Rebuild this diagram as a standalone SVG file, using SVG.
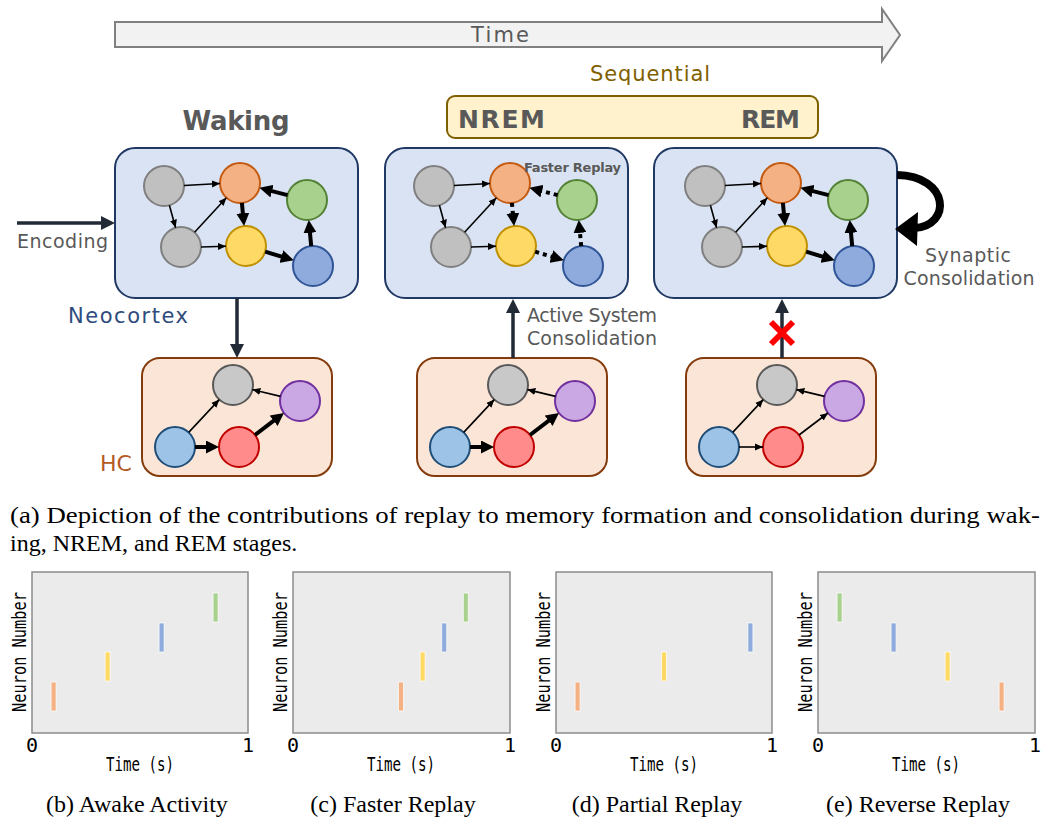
<svg xmlns="http://www.w3.org/2000/svg" width="1050" height="830" viewBox="0 0 1050 830">
<style>
.lbl{font-family:"DejaVu Sans","Liberation Sans",sans-serif;fill:#595959}
.bold{font-weight:bold}
.neo{fill:#DAE3F3;stroke:#203864;stroke-width:2}
.hc{fill:#FBE5D6;stroke:#843C0C;stroke-width:2}
.cg{fill:#C0C0C0;stroke:#7F7F7F;stroke-width:2}
.co{fill:#F4B183;stroke:#C55A11;stroke-width:2}
.cgr{fill:#A9D18E;stroke:#548235;stroke-width:2}
.cy{fill:#FFD966;stroke:#BF9000;stroke-width:2}
.cb{fill:#8FAADC;stroke:#2F5597;stroke-width:2}
.hg{fill:#C8C8C8;stroke:#595959;stroke-width:2}
.hp{fill:#C9A8E3;stroke:#7030A0;stroke-width:2}
.hb{fill:#9DC3E6;stroke:#1F4E79;stroke-width:2}
.hr{fill:#FF8B8B;stroke:#C00000;stroke-width:2}
.thin{stroke:#000;stroke-width:1.6;fill:none;marker-end:url(#ahThin)}
.thick{stroke:#000;stroke-width:4;fill:none;marker-end:url(#ahThick)}
.dot{stroke:#000;stroke-width:4;fill:none;stroke-dasharray:4 4;marker-end:url(#ahThick)}
.navy{stroke:#222A35;stroke-width:3.5;fill:none;marker-end:url(#ahNavy)}
.plot{fill:#EBEBEB;stroke:#8C8C8C;stroke-width:1.5}
.mono{font-family:"DejaVu Sans Mono","Liberation Mono",monospace;fill:#000}
.serif{font-family:"Liberation Serif","Times New Roman",serif;fill:#000}
.sp{stroke:#FFFFFF;stroke-width:1;stroke-opacity:0.7}
</style>
<defs>
<marker id="ahThin" markerUnits="userSpaceOnUse" markerWidth="9" markerHeight="8" refX="8" refY="4" orient="auto"><path d="M0,0.5 L8,4 L0,7.5 Z" fill="#000"/></marker>
<marker id="ahThick" markerUnits="userSpaceOnUse" markerWidth="13" markerHeight="13" refX="6" refY="6.5" orient="auto"><path d="M0,0 L13,6.5 L0,13 Z" fill="#000"/></marker>
<marker id="ahNavy" markerUnits="userSpaceOnUse" markerWidth="14" markerHeight="14" refX="2" refY="7" orient="auto"><path d="M0,0 L14,7 L0,14 Z" fill="#222A35"/></marker>
</defs>
<rect width="1050" height="830" fill="#FFFFFF"/>

<g id="time-arrow">
<path d="M115,22 L882,22 L882,9 L900,35 L882,61 L882,47 L115,47 Z" fill="#F2F2F2" stroke="#808080" stroke-width="2"/>
<text x="500" y="42" class="lbl" font-size="21" text-anchor="middle" textLength="58">Time</text>
</g>

<g id="sequential">
<text x="650" y="81" class="lbl" style="fill:#7F6000" font-size="21" text-anchor="middle" textLength="120">Sequential</text>
<rect x="447" y="96" width="371" height="42" rx="8" fill="#FFF2CC" stroke="#7F6000" stroke-width="2"/>
<text x="458" y="128" class="lbl bold" font-size="25" textLength="87">NREM</text>
<text x="741" y="128" class="lbl bold" font-size="25" textLength="59">REM</text>
</g>

<text x="236" y="130" class="lbl bold" font-size="26" text-anchor="middle" textLength="107">Waking</text>

<g id="neocortex-waking">
<rect class="neo" x="115" y="148" width="243" height="150" rx="20"/>
<g transform="translate(115,148)">
<circle class="cg" cx="49" cy="38" r="20"/><circle class="co" cx="125" cy="35" r="20"/><circle class="cgr" cx="192" cy="52" r="20"/>
<circle class="cg" cx="66" cy="99" r="20"/><circle class="cy" cx="131" cy="98" r="20"/><circle class="cb" cx="198" cy="118" r="20"/>
</g>
</g>

<g id="neocortex-nrem">
<rect class="neo" x="385" y="148" width="243" height="150" rx="20"/>
<g transform="translate(385,148)">
<circle class="cg" cx="49" cy="38" r="20"/><circle class="co" cx="125" cy="35" r="20"/><circle class="cgr" cx="192" cy="52" r="20"/>
<circle class="cg" cx="66" cy="99" r="20"/><circle class="cy" cx="131" cy="98" r="20"/><circle class="cb" cx="198" cy="118" r="20"/>
</g>
<text x="524" y="172" class="lbl bold" font-size="13" textLength="97">Faster Replay</text>
</g>

<g id="neocortex-rem">
<rect class="neo" x="654" y="148" width="243" height="150" rx="20"/>
<g transform="translate(656,148)">
<circle class="cg" cx="49" cy="38" r="20"/><circle class="co" cx="125" cy="35" r="20"/><circle class="cgr" cx="192" cy="52" r="20"/>
<circle class="cg" cx="66" cy="99" r="20"/><circle class="cy" cx="131" cy="98" r="20"/><circle class="cb" cx="198" cy="118" r="20"/>
</g>
</g>

<g id="hc-waking">
<rect class="hc" x="142" y="358" width="190" height="118" rx="18"/>
<g transform="translate(142,358)">
<circle class="hg" cx="91" cy="27" r="20"/><circle class="hp" cx="158" cy="43" r="20"/><circle class="hb" cx="33" cy="89" r="20"/><circle class="hr" cx="97" cy="89" r="20"/>
</g>
</g>
<g id="hc-nrem">
<rect class="hc" x="417" y="358" width="190" height="118" rx="18"/>
<g transform="translate(417,358)">
<circle class="hg" cx="91" cy="27" r="20"/><circle class="hp" cx="158" cy="43" r="20"/><circle class="hb" cx="33" cy="89" r="20"/><circle class="hr" cx="97" cy="89" r="20"/>
</g>
</g>
<g id="hc-rem">
<rect class="hc" x="686" y="358" width="190" height="118" rx="18"/>
<g transform="translate(686,358)">
<circle class="hg" cx="91" cy="27" r="20"/><circle class="hp" cx="158" cy="43" r="20"/><circle class="hb" cx="33" cy="89" r="20"/><circle class="hr" cx="97" cy="89" r="20"/>
</g>
</g>

<g id="labels">
<text x="17" y="248" class="lbl" font-size="19" textLength="91">Encoding</text>
<text x="68" y="323" class="lbl" style="fill:#2E4B7C" font-size="21" textLength="120">Neocortex</text>
<text x="100" y="471" class="lbl" style="fill:#B45A24" font-size="22">HC</text>
<text x="527" y="322" class="lbl" font-size="19" textLength="130">Active System</text>
<text x="527" y="345" class="lbl" font-size="19" textLength="130">Consolidation</text>
<text x="968" y="262" class="lbl" font-size="19" text-anchor="middle" textLength="86">Synaptic</text>
<text x="969" y="285" class="lbl" font-size="19" text-anchor="middle" textLength="131">Consolidation</text>
</g>

<g id="connectors">
<g transform="translate(115,148)">
<line class="thin" x1="69" y1="37.5" x2="105" y2="35.5"/>
<line class="thin" x1="54.4" y1="57.3" x2="60.6" y2="79.7"/>
<line class="thin" x1="79.6" y1="84.3" x2="111.4" y2="49.7"/>
<line class="thin" x1="86" y1="99" x2="111" y2="98.3"/>
<line class="thick" x1="126.9" y1="54.9" x2="128.4" y2="71.1"/>
<line class="thick" x1="172.6" y1="47.1" x2="151.2" y2="41.6"/>
<line class="thick" x1="150.2" y1="103.7" x2="172.1" y2="110.3"/>
<line class="thick" x1="196.2" y1="98.1" x2="194.4" y2="78.9"/>
</g>
<g transform="translate(385,148)">
<line class="thin" x1="69" y1="37.5" x2="105" y2="35.5"/>
<line class="thin" x1="54.4" y1="57.3" x2="60.6" y2="79.7"/>
<line class="thin" x1="79.6" y1="84.3" x2="111.4" y2="49.7"/>
<line class="thin" x1="86" y1="99" x2="111" y2="98.3"/>
<line class="dot" x1="126.9" y1="54.9" x2="128.4" y2="71.1"/>
<line class="dot" x1="172.6" y1="47.1" x2="151.2" y2="41.6"/>
<line class="dot" x1="150.2" y1="103.7" x2="172.1" y2="110.3"/>
<line class="dot" x1="196.2" y1="98.1" x2="194.4" y2="78.9"/>
</g>
<g transform="translate(656,148)">
<line class="thin" x1="69" y1="37.5" x2="105" y2="35.5"/>
<line class="thin" x1="54.4" y1="57.3" x2="60.6" y2="79.7"/>
<line class="thin" x1="79.6" y1="84.3" x2="111.4" y2="49.7"/>
<line class="thin" x1="86" y1="99" x2="111" y2="98.3"/>
<line class="thick" x1="126.9" y1="54.9" x2="128.4" y2="71.1"/>
<line class="thick" x1="172.6" y1="47.1" x2="151.2" y2="41.6"/>
<line class="thick" x1="150.2" y1="103.7" x2="172.1" y2="110.3"/>
<line class="thick" x1="196.2" y1="98.1" x2="194.4" y2="78.9"/>
</g>
<g transform="translate(142,358)">
<line class="thin" x1="46.7" y1="74.4" x2="77.3" y2="41.6"/>
<line class="thin" x1="138.6" y1="38.4" x2="110.4" y2="31.6"/>
<line class="thick" x1="53" y1="89" x2="70" y2="89" stroke-width="5"/>
<line class="thick" x1="113" y1="77" x2="136.4" y2="59.2" stroke-width="6"/>
</g>
<g transform="translate(417,358)">
<line class="thin" x1="46.7" y1="74.4" x2="77.3" y2="41.6"/>
<line class="thin" x1="138.6" y1="38.4" x2="110.4" y2="31.6"/>
<line class="thick" x1="53" y1="89" x2="70" y2="89" stroke-width="5"/>
<line class="thick" x1="113" y1="77" x2="136.4" y2="59.2" stroke-width="6"/>
</g>
<g transform="translate(686,358)">
<line class="thin" x1="46.7" y1="74.4" x2="77.3" y2="41.6"/>
<line class="thin" x1="138.6" y1="38.4" x2="110.4" y2="31.6"/>
<line class="thin" x1="53" y1="89" x2="77" y2="89"/>
<line class="thin" x1="113" y1="77" x2="142" y2="55"/>
</g>
<line class="navy" x1="17" y1="223" x2="103" y2="223" stroke-width="4"/>
<line class="navy" x1="237" y1="298" x2="237" y2="346"/>
<line class="navy" x1="513" y1="358" x2="513" y2="311"/>
<line class="navy" x1="782" y1="358" x2="782" y2="311"/>
<path d="M897,175 C950,176 952,226 914,228" fill="none" stroke="#000" stroke-width="8"/>
<path d="M895,229 L918,212 L917,246 Z" fill="#000"/>
<g stroke="#FF0000" stroke-width="6" stroke-linecap="butt">
<line x1="771" y1="322" x2="793" y2="344"/>
<line x1="793" y1="322" x2="771" y2="344"/>
</g>
</g>

<g id="caption-a">
<text x="10" y="523" class="serif" font-size="24" textLength="1030" lengthAdjust="spacingAndGlyphs">(a) Depiction of the contributions of replay to memory formation and consolidation during wak-</text>
<text x="10" y="551" class="serif" font-size="24">ing, NREM, and REM stages.</text>
</g>

<g id="plot-b">
<rect class="plot" x="32" y="572" width="216" height="161"/>
<rect class="sp" x="51.1" y="682" width="5" height="29" fill="#F4B183"/>
<rect class="sp" x="105.1" y="652" width="5" height="29" fill="#FFD966"/>
<rect class="sp" x="159.1" y="623" width="5" height="29" fill="#8FAADC"/>
<rect class="sp" x="213.1" y="593" width="5" height="29" fill="#A9D18E"/>
<text class="mono" x="32" y="752" text-anchor="middle" font-size="20">0</text>
<text class="mono" x="248" y="752" text-anchor="middle" font-size="20">1</text>
<text class="mono" x="140" y="771" text-anchor="middle" font-size="19" textLength="68" lengthAdjust="spacingAndGlyphs">Time (s)</text>
<text class="mono" transform="translate(26,652) rotate(-90)" text-anchor="middle" font-size="19" textLength="120" lengthAdjust="spacingAndGlyphs">Neuron Number</text>
<text class="serif" x="137" y="812" text-anchor="middle" font-size="24">(b) Awake Activity</text>
</g>

<g id="plot-c">
<rect class="plot" x="293" y="572" width="217" height="161"/>
<rect class="sp" x="398.5" y="682" width="5" height="29" fill="#F4B183"/>
<rect class="sp" x="420.1" y="652" width="5" height="29" fill="#FFD966"/>
<rect class="sp" x="441.7" y="623" width="5" height="29" fill="#8FAADC"/>
<rect class="sp" x="463.3" y="593" width="5" height="29" fill="#A9D18E"/>
<text class="mono" x="293" y="752" text-anchor="middle" font-size="20">0</text>
<text class="mono" x="510" y="752" text-anchor="middle" font-size="20">1</text>
<text class="mono" x="401" y="771" text-anchor="middle" font-size="19" textLength="68" lengthAdjust="spacingAndGlyphs">Time (s)</text>
<text class="mono" transform="translate(287,652) rotate(-90)" text-anchor="middle" font-size="19" textLength="120" lengthAdjust="spacingAndGlyphs">Neuron Number</text>
<text class="serif" x="393" y="812" text-anchor="middle" font-size="24">(c) Faster Replay</text>
</g>

<g id="plot-d">
<rect class="plot" x="556" y="572" width="216" height="161"/>
<rect class="sp" x="575.1" y="682" width="5" height="29" fill="#F4B183"/>
<rect class="sp" x="661.5" y="652" width="5" height="29" fill="#FFD966"/>
<rect class="sp" x="747.9" y="623" width="5" height="29" fill="#8FAADC"/>
<text class="mono" x="556" y="752" text-anchor="middle" font-size="20">0</text>
<text class="mono" x="772" y="752" text-anchor="middle" font-size="20">1</text>
<text class="mono" x="664" y="771" text-anchor="middle" font-size="19" textLength="68" lengthAdjust="spacingAndGlyphs">Time (s)</text>
<text class="mono" transform="translate(550,652) rotate(-90)" text-anchor="middle" font-size="19" textLength="120" lengthAdjust="spacingAndGlyphs">Neuron Number</text>
<text class="serif" x="657" y="812" text-anchor="middle" font-size="24">(d) Partial Replay</text>
</g>

<g id="plot-e">
<rect class="plot" x="818" y="572" width="217" height="161"/>
<rect class="sp" x="837.1" y="593" width="5" height="29" fill="#A9D18E"/>
<rect class="sp" x="891.1" y="623" width="5" height="29" fill="#8FAADC"/>
<rect class="sp" x="945.1" y="652" width="5" height="29" fill="#FFD966"/>
<rect class="sp" x="999.1" y="682" width="5" height="29" fill="#F4B183"/>
<text class="mono" x="818" y="752" text-anchor="middle" font-size="20">0</text>
<text class="mono" x="1035" y="752" text-anchor="middle" font-size="20">1</text>
<text class="mono" x="926" y="771" text-anchor="middle" font-size="19" textLength="68" lengthAdjust="spacingAndGlyphs">Time (s)</text>
<text class="mono" transform="translate(812,652) rotate(-90)" text-anchor="middle" font-size="19" textLength="120" lengthAdjust="spacingAndGlyphs">Neuron Number</text>
<text class="serif" x="918" y="812" text-anchor="middle" font-size="24">(e) Reverse Replay</text>
</g>
</svg>
